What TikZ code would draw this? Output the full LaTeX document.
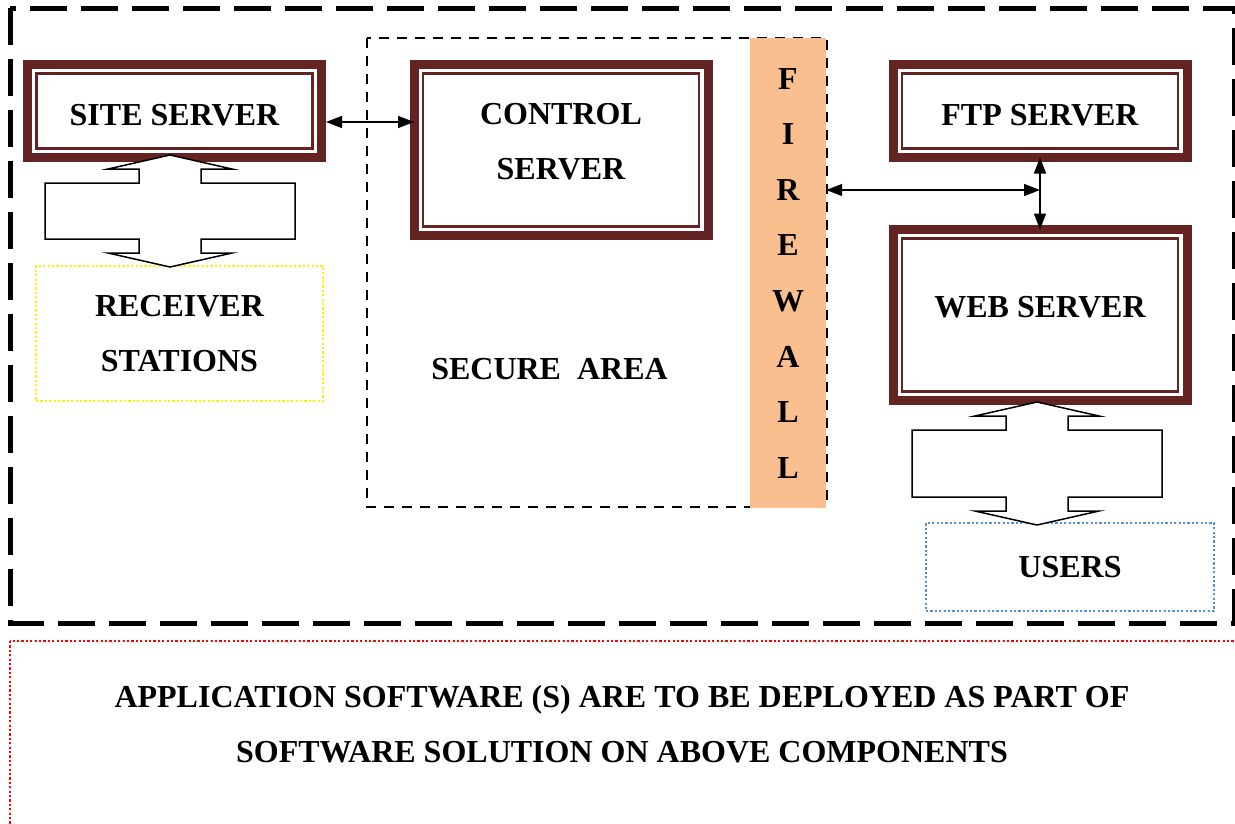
\documentclass[tikz,border=0pt]{standalone}
\usepackage{fontspec}
\setmainfont{Liberation Serif}
\usetikzlibrary{arrows.meta}
\definecolor{serverred}{HTML}{632423}
\definecolor{wallorange}{HTML}{FABF8F}
\definecolor{userblue}{HTML}{558ED5}
\tikzstyle{server} = [rectangle, draw = serverred, line width = 9pt, outer sep = 0pt,
  minimum width = 294pt, minimum height = 93pt, align = center, fill = white]
\tikzstyle{tall} = [minimum height = 171pt]
\tikzstyle{wall} = [rectangle, fill = wallorange, minimum width = 76pt, minimum
  height = 470pt, inner sep = 0pt, align = center, font =
  \bfseries\fontsize{32}{55.6}\selectfont]
\tikzstyle{dotbox} = [rectangle, line width = 2.2pt, dash pattern = on 2.2pt off
  2.2pt, inner sep = 0pt, align = center]
\tikzstyle{arrow} = [line width = 1.5pt, <->, >={Triangle[length = 16pt, width = 12pt]}]
\tikzstyle{callout} = [line width = 1.5pt, fill = white, line join = miter]

% up-down arrow callout: centre x, top tip y, height of the middle box
\newcommand{\bothways}[3]{
  \draw [callout] (#1,#2) -- ++(62,14) -- ++(-31,0) -- ++(0,14) -- ++(94,0)
    -- ++(0,#3) -- ++(-94,0) -- ++(0,14) -- ++(31,0) -- ++(-62,14)
    -- ++(-62,-14) -- ++(31,0) -- ++(0,-14) -- ++(-94,0) -- ++(0,-#3)
    -- ++(94,0) -- ++(0,-14) -- ++(-31,0) -- cycle;
}

\begin{document}
\begin{tikzpicture}[x = 1pt, y = -1pt, font = \bfseries\fontsize{32}{55}\selectfont]
  \useasboundingbox (0,0) rectangle (1235,823);

  % frames
  \draw [line width = 5pt, dash pattern = on 37pt off 14pt] (10,8) rectangle (1234,623);
  \draw [dotbox, draw = red] (10,641) rectangle (1250,840);
  \node (note) [align = center] at (622,724)
    {APPLICATION SOFTWARE (S) ARE TO BE DEPLOYED AS PART OF\\SOFTWARE SOLUTION ON ABOVE COMPONENTS};

  % secure area
  \draw [line width = 2.5pt, dash pattern = on 10pt off 8pt] (367,38) rectangle (827,507);
  \node (firewall) [wall] at (788,273.25) {F\\I\\R\\E\\W\\A\\L\\L};
  \node (secure) at (549.5,369) {SECURE\ \ AREA};

  \node (site) [server, text height = 29pt] at (174.5,111) {SITE SERVER};
  \node (control) [server, tall, text depth = 17pt] at (561,150) {CONTROL\\SERVER};
  \node (ftp) [server, text height = 29pt] at (1040,111) {FTP SERVER};
  \node (web) [server, tall, text depth = 16pt] at (1040,315) {WEB SERVER};
  \foreach \srv in {site, control, ftp, web}
    \draw [serverred, line width = 2.5pt] ([xshift = 9pt, yshift = -9pt]\srv.north west)
      rectangle ([xshift = -9pt, yshift = 9pt]\srv.south east);

  \node (receiver) [dotbox, draw = yellow, minimum width = 287pt, minimum height = 135pt]
    at (179.5,333.5) {RECEIVER\\STATIONS};
  \node (users) [dotbox, draw = userblue, minimum width = 288pt, minimum height = 88pt]
    at (1070,567) {USERS};

  \bothways{170}{155}{56}
  \bothways{1037}{402}{67}

  \coordinate (hub) at (1040,190);
  \draw [arrow] ([xshift = 4.5pt, yshift = -11pt]site.east)
    -- ([yshift = -11pt]site.east -| control.west);
  \draw [arrow] (firewall.east |- hub) -- (hub);
  \draw [arrow] (ftp.south) -- (web.north);
\end{tikzpicture}
\end{document}
